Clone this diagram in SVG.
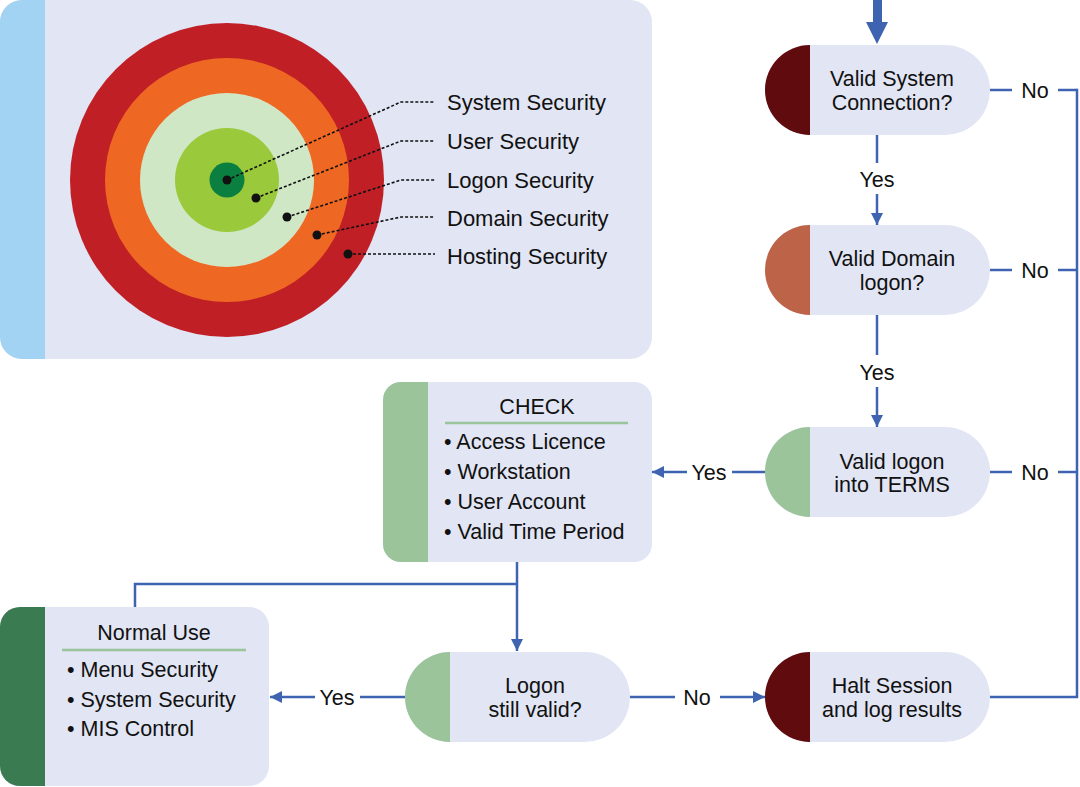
<svg xmlns="http://www.w3.org/2000/svg" width="1080" height="787" viewBox="0 0 1080 787">
<style>
text{font-family:"Liberation Sans",Arial,sans-serif;fill:#111;}
.t{font-size:21.5px;text-anchor:middle;}
.lbl{font-size:22px;}
.b{font-size:21.5px;}
.c{fill:none;stroke:#3e63b1;stroke-width:2.5;}
.lead{fill:none;stroke:#111;stroke-width:1.6;stroke-dasharray:3 2;}
.pill{fill:#e1e5f4;}
.box{fill:#e1e5f4;}
.ul{stroke:#9bc49b;stroke-width:2.5;}
</style>
<defs>
<marker id="ah" viewBox="0 0 12 12" refX="12" refY="6" markerWidth="12" markerHeight="12" markerUnits="userSpaceOnUse" orient="auto">
<path d="M0,0 L12,6 L0,12 z" fill="#3e63b1"/>
</marker>
<clipPath id="cpTarget"><rect x="0" y="0" width="652" height="359" rx="22"/></clipPath>
<clipPath id="cpCheck"><rect x="383" y="382" width="269" height="180" rx="18"/></clipPath>
<clipPath id="cpNormal"><rect x="0" y="607" width="269" height="179" rx="20"/></clipPath>
</defs>

<g id="target-panel">
<rect x="0" y="0" width="652" height="359" rx="22" fill="#e1e5f4"/>
<rect x="0" y="0" width="45" height="359" fill="#a3d3f3" clip-path="url(#cpTarget)"/>
<circle cx="227" cy="180" r="157" fill="#c01f25"/>
<circle cx="227" cy="180" r="122" fill="#ee6823"/>
<circle cx="227" cy="180" r="87" fill="#d0e7c6"/>
<circle cx="227" cy="180" r="52" fill="#9ac93c"/>
<circle cx="227" cy="180" r="17.5" fill="#0a7f3f"/>
<polyline class="lead" points="227,180 401,102 435,102"/>
<polyline class="lead" points="256,198 401,141 435,141"/>
<polyline class="lead" points="287,217 401,180 435,180"/>
<polyline class="lead" points="317,235 401,217 435,217"/>
<polyline class="lead" points="348,254 435,254"/>
<g fill="#111">
<circle cx="227" cy="180" r="4.5"/>
<circle cx="256" cy="198" r="4.5"/>
<circle cx="287" cy="217" r="4.5"/>
<circle cx="317" cy="235" r="4.5"/>
<circle cx="348" cy="254" r="4.5"/>
</g>
<text class="lbl" x="447" y="110">System Security</text>
<text class="lbl" x="447" y="149">User Security</text>
<text class="lbl" x="447" y="188">Logon Security</text>
<text class="lbl" x="447" y="226">Domain Security</text>
<text class="lbl" x="447" y="264">Hosting Security</text>
</g>

<g id="connectors">
<polygon points="873,0 882,0 882,22 888,22 877,44 866,22 873,22" fill="#3e63b1"/>
<line class="c" x1="877" y1="135" x2="877" y2="163"/>
<line class="c" x1="877" y1="194" x2="877" y2="225" marker-end="url(#ah)"/>
<text class="t" x="877" y="187">Yes</text>
<line class="c" x1="877" y1="315" x2="877" y2="355"/>
<line class="c" x1="877" y1="387" x2="877" y2="427" marker-end="url(#ah)"/>
<text class="t" x="877" y="380">Yes</text>
<line class="c" x1="990" y1="90" x2="1012" y2="90"/>
<text class="t" x="1035" y="98">No</text>
<line class="c" x1="1058" y1="90" x2="1077" y2="90"/>
<line class="c" x1="990" y1="270" x2="1012" y2="270"/>
<text class="t" x="1035" y="278">No</text>
<line class="c" x1="1058" y1="270" x2="1077" y2="270"/>
<line class="c" x1="990" y1="472" x2="1012" y2="472"/>
<text class="t" x="1035" y="480">No</text>
<line class="c" x1="1058" y1="472" x2="1077" y2="472"/>
<polyline class="c" points="990,697 1077,697 1077,88.8"/>
<line class="c" x1="765" y1="472" x2="732" y2="472"/>
<text class="t" x="709" y="480">Yes</text>
<line class="c" x1="687" y1="472" x2="652" y2="472" marker-end="url(#ah)"/>
<line class="c" x1="517" y1="562" x2="517" y2="651" marker-end="url(#ah)"/>
<polyline class="c" points="517,584 135,584 135,607"/>
<line class="c" x1="405" y1="697" x2="360" y2="697"/>
<text class="t" x="337" y="705">Yes</text>
<line class="c" x1="315" y1="697" x2="270" y2="697" marker-end="url(#ah)"/>
<line class="c" x1="630" y1="697" x2="675" y2="697"/>
<text class="t" x="697" y="705">No</text>
<line class="c" x1="720" y1="697" x2="765" y2="697" marker-end="url(#ah)"/>
</g>

<g id="node-valid-system">
<rect class="pill" x="765" y="45" width="225" height="90" rx="45"/>
<path d="M810,45 A45,45 0 0 0 810,135 Z" fill="#600b0e"/>
<text class="t" x="892" y="86">Valid System</text>
<text class="t" x="892" y="110">Connection?</text>
</g>

<g id="node-valid-domain">
<rect class="pill" x="765" y="225" width="225" height="90" rx="45"/>
<path d="M810,225 A45,45 0 0 0 810,315 Z" fill="#bd6347"/>
<text class="t" x="892" y="266">Valid Domain</text>
<text class="t" x="892" y="290">logon?</text>
</g>

<g id="node-valid-terms">
<rect class="pill" x="765" y="427" width="225" height="90" rx="45"/>
<path d="M810,427 A45,45 0 0 0 810,517 Z" fill="#9bc49b"/>
<text class="t" x="892" y="469">Valid logon</text>
<text class="t" x="892" y="492">into TERMS</text>
</g>

<g id="node-check">
<rect class="box" x="383" y="382" width="269" height="180" rx="18"/>
<rect x="383" y="382" width="45" height="180" fill="#9bc49b" clip-path="url(#cpCheck)"/>
<text class="t" x="537" y="414">CHECK</text>
<line class="ul" x1="445" y1="423" x2="628" y2="423"/>
<text class="b" x="444" y="449">• Access Licence</text>
<text class="b" x="444" y="479">• Workstation</text>
<text class="b" x="444" y="509">• User Account</text>
<text class="b" x="444" y="539">• Valid Time Period</text>
</g>

<g id="node-normal-use">
<rect class="box" x="0" y="607" width="269" height="179" rx="20"/>
<rect x="0" y="607" width="45" height="179" fill="#3a7b52" clip-path="url(#cpNormal)"/>
<text class="t" x="154" y="640">Normal Use</text>
<line class="ul" x1="62" y1="650" x2="246" y2="650"/>
<text class="b" x="67" y="677">• Menu Security</text>
<text class="b" x="67" y="707">• System Security</text>
<text class="b" x="67" y="736">• MIS Control</text>
</g>

<g id="node-logon-valid">
<rect class="pill" x="405" y="652" width="225" height="90" rx="45"/>
<path d="M450,652 A45,45 0 0 0 450,742 Z" fill="#9bc49b"/>
<text class="t" x="535" y="693">Logon</text>
<text class="t" x="535" y="717">still valid?</text>
</g>

<g id="node-halt">
<rect class="pill" x="765" y="652" width="225" height="90" rx="45"/>
<path d="M810,652 A45,45 0 0 0 810,742 Z" fill="#600b0e"/>
<text class="t" x="892" y="693">Halt Session</text>
<text class="t" x="892" y="717">and log results</text>
</g>
</svg>
